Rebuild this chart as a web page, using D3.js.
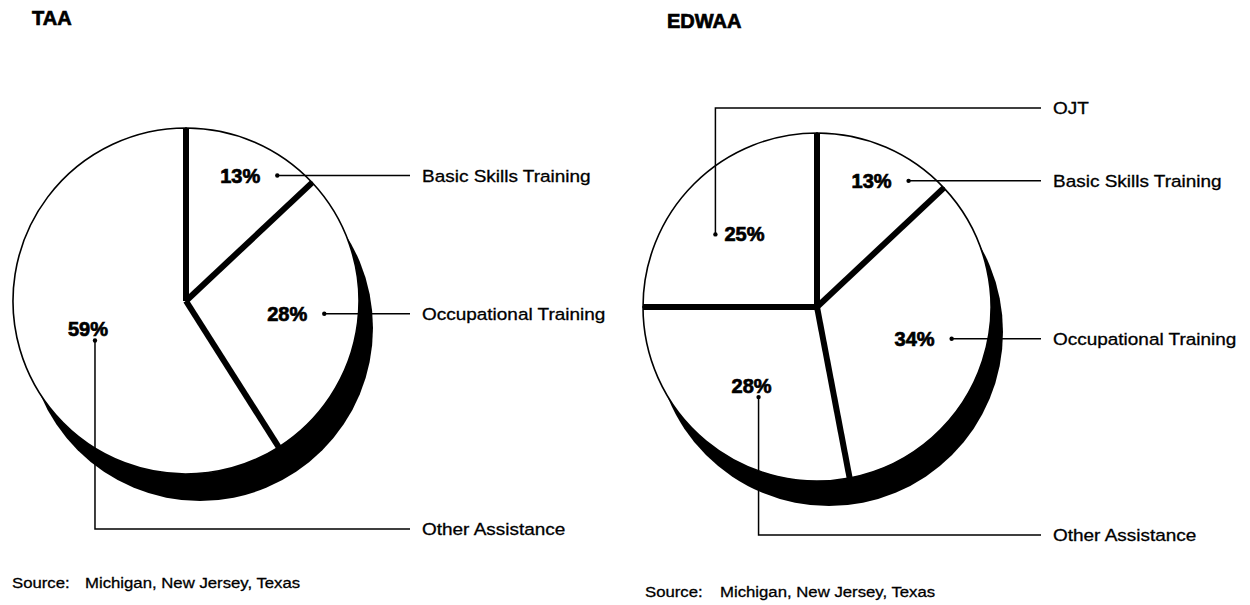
<!DOCTYPE html>
<html>
<head>
<meta charset="utf-8">
<script src="https://cdn.jsdelivr.net/npm/d3@7"></script>
<style>
body { margin: 0; background: #fff; }
text { font-family: "Liberation Sans", Arial, sans-serif; fill: #000; stroke: #000; stroke-width: 0.3; }
text.heavy { stroke-width: 0.7; }
</style>
</head>
<body>
<svg id="chart" width="1250" height="605"></svg>
<script>
// data
var taaNames = ["Basic Skills Training", "Occupational Training", "Other Assistance"];
var taaValues = [13, 28, 59];
var edwaaNames = ["Basic Skills Training", "Occupational Training", "Other Assistance", "OJT"];
var edwaaValues = [13, 34, 28, 25];
var sourceLabel = "Source:";
var sourceStates = "Michigan, New Jersey, Texas";

var svg = d3.select("#chart");
var sx = 1.15; // the scanned type is wider than Arial

var charts = [
  {title: "TAA", names: taaNames, values: taaValues, leaders: ["right", "right", "down"],
   cx: 186, cy: 301, r: 173, shx: 14, shy: 27, titleX: 32, titleY: 25,
   srcX: 12, srcY: 588, srcGap: 73},
  {title: "EDWAA", names: edwaaNames, values: edwaaValues, leaders: ["right", "right", "down", "up"],
   cx: 817, cy: 307, r: 174, shx: 12, shy: 25, titleX: 667, titleY: 28,
   srcX: 645, srcY: 597, srcGap: 75}
];

var pie = d3.pie().sort(null).value(function(d) { return d; });

function drawPie(c) {
  var g = svg.append("g");
  var arcs = pie(c.values);
  var arc = d3.arc().innerRadius(0).outerRadius(c.r);

  // shadow
  g.append("circle")
    .attr("cx", c.cx + c.shx).attr("cy", c.cy + c.shy).attr("r", c.r)
    .attr("fill", "#000");

  var slices = g.append("g").attr("transform", "translate(" + c.cx + "," + c.cy + ")");
  slices.selectAll("path")
    .data(arcs)
    .enter()
    .append("path")
    .attr("d", arc)
    .attr("fill", "#fff")
    .attr("stroke", "#000")
    .attr("stroke-width", 1.6);

  // thick separators between slices
  slices.selectAll("line.sep")
    .data(arcs)
    .enter()
    .append("line")
    .attr("class", "sep")
    .attr("x1", 0).attr("y1", 0)
    .attr("x2", function(d) { return c.r * Math.sin(d.startAngle); })
    .attr("y2", function(d) { return -c.r * Math.cos(d.startAngle); })
    .attr("stroke", "#000")
    .attr("stroke-width", 6);

  var lineEnd = c.cx + 224;
  var textX = c.cx + 236;

  arcs.forEach(function(d, i) {
    var rl = d.value < 15 ? c.r * 0.79 : c.r * 0.59;
    var p = d3.arc().innerRadius(rl).outerRadius(rl).centroid(d);
    var lx = c.cx + p[0], ly = c.cy + p[1];

    g.append("text")
      .attr("class", "heavy")
      .attr("x", lx).attr("y", ly + 7)
      .attr("text-anchor", "middle")
      .attr("font-size", 20)
      .attr("font-weight", "bold")
      .text(d.value + "%");

    var kind = c.leaders[i];
    var dot, pts, ty;
    if (kind == "right") {
      dot = [lx + 37, ly];
      ty = ly;
      pts = [dot, [lineEnd, ly]];
    } else if (kind == "down") {
      dot = [lx + 7, ly + 11];
      ty = c.cy + 228;
      pts = [dot, [dot[0], ty], [lineEnd, ty]];
    } else {
      dot = [lx - 29, ly];
      ty = c.cy - 199;
      pts = [dot, [dot[0], ty], [lineEnd, ty]];
    }
    g.append("path")
      .attr("d", d3.line()(pts))
      .attr("fill", "none")
      .attr("stroke", "#000")
      .attr("stroke-width", 1.5);
    g.append("circle")
      .attr("cx", dot[0]).attr("cy", dot[1]).attr("r", 2.2)
      .attr("fill", "#000");

    g.append("text")
      .attr("transform", "translate(" + textX + "," + (ty + 6) + ") scale(" + sx + ",1)")
      .attr("font-size", 16.5)
      .text(c.names[i]);
  });

  // title
  svg.append("text")
    .attr("class", "heavy")
    .attr("x", c.titleX).attr("y", c.titleY)
    .attr("font-size", 20)
    .attr("font-weight", "bold")
    .text(c.title);

  // source note
  svg.append("text")
    .attr("transform", "translate(" + c.srcX + "," + c.srcY + ") scale(1.08,1)")
    .attr("font-size", 15.5)
    .text(sourceLabel);
  svg.append("text")
    .attr("transform", "translate(" + (c.srcX + c.srcGap) + "," + c.srcY + ") scale(1.08,1)")
    .attr("font-size", 15.5)
    .text(sourceStates);
}

charts.forEach(drawPie);
</script>
</body>
</html>
